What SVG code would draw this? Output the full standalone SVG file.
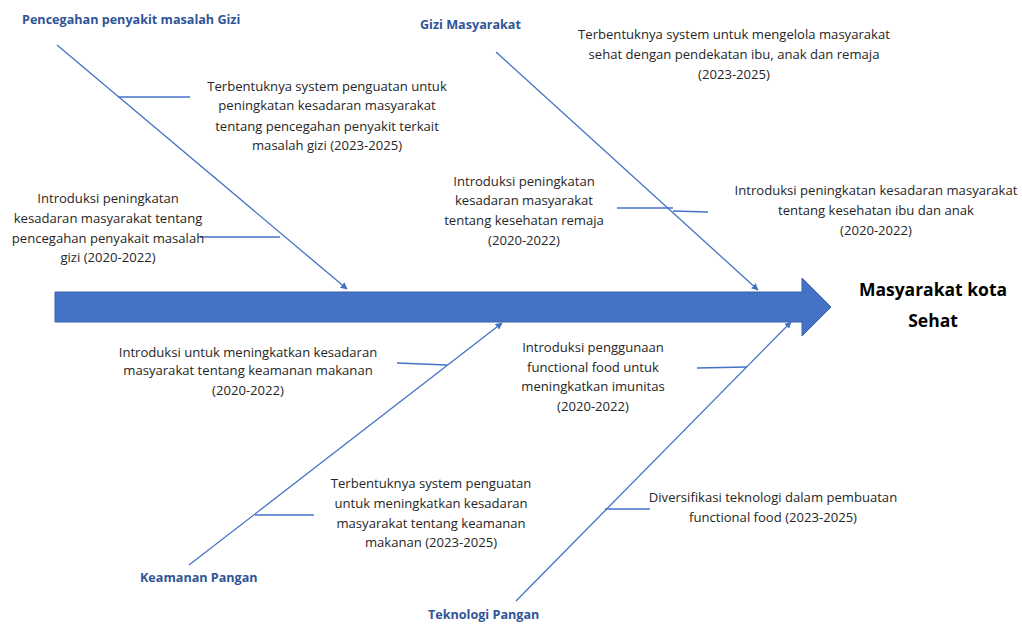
<svg xmlns="http://www.w3.org/2000/svg" width="1022" height="624" viewBox="0 0 1022 624">
<defs>
<marker id="ah" viewBox="0 0 10 10" refX="9" refY="5" markerWidth="7" markerHeight="7" orient="auto" markerUnits="userSpaceOnUse">
<path d="M0,0 L10,5 L0,10 Z" fill="#4472C4"/>
</marker>
<style>
.t{font-family:"Open Sans","Liberation Sans",sans-serif;font-size:13.1px;fill:#262626;text-anchor:middle}
.h{font-family:"Open Sans","Liberation Sans",sans-serif;font-size:12.6px;font-weight:bold;fill:#2F5597}
.m{font-family:"Open Sans","Liberation Sans",sans-serif;font-size:17.5px;font-weight:bold;fill:#000;text-anchor:middle}
.b{stroke:#4472C4;stroke-width:1.3;fill:none}
.ba{stroke:#4472C4;stroke-width:1.3;fill:none;marker-end:url(#ah)}
</style>
</defs>
<rect width="1022" height="624" fill="#fff"/>
<g id="spine">
<path d="M55,292 H802 V278 L831,307 L802,336 V322 H55 Z" fill="#4472C4" stroke="#3A62AD" stroke-width="1"/>
</g>
<g id="connectors">
<line class="ba" x1="57" y1="45" x2="347" y2="289"/>
<line class="b" x1="118" y1="97" x2="190" y2="97"/>
<line class="b" x1="200" y1="237" x2="280" y2="237"/>
<line class="ba" x1="496" y1="52" x2="758" y2="290"/>
<line class="b" x1="617" y1="208" x2="673" y2="208"/>
<line class="b" x1="673" y1="211" x2="708" y2="212"/>
<line class="ba" x1="189" y1="565" x2="502" y2="323"/>
<line class="b" x1="397" y1="363" x2="447" y2="365"/>
<line class="b" x1="255" y1="515" x2="314" y2="515"/>
<line class="ba" x1="516" y1="601" x2="791" y2="322"/>
<line class="b" x1="697" y1="368" x2="747" y2="367"/>
<line class="b" x1="605" y1="509" x2="650" y2="509"/>
</g>
<g id="head">
<text class="m" x="933" y="296">Masyarakat kota</text>
<text class="m" x="933" y="327">Sehat</text>
</g>
<g id="cat-pencegahan">
<text class="h" x="22" y="24">Pencegahan penyakit masalah Gizi</text>
</g>
<g id="cat-gizi">
<text class="h" x="420" y="29">Gizi Masyarakat</text>
</g>
<g id="cat-keamanan">
<text class="h" x="140" y="582">Keamanan Pangan</text>
</g>
<g id="cat-teknologi">
<text class="h" x="428" y="619">Teknologi Pangan</text>
</g>
<g id="node-a">
<text class="t" x="327" y="91">Terbentuknya system penguatan untuk</text>
<text class="t" x="327" y="110">peningkatan kesadaran masyarakat</text>
<text class="t" x="327" y="131">tentang pencegahan penyakit terkait</text>
<text class="t" x="327" y="150">masalah gizi (2023-2025)</text>
</g>
<g id="node-b">
<text class="t" x="108" y="203">Introduksi peningkatan</text>
<text class="t" x="108" y="223">kesadaran masyarakat tentang</text>
<text class="t" x="108" y="243">pencegahan penyakait masalah</text>
<text class="t" x="108" y="262">gizi (2020-2022)</text>
</g>
<g id="node-c">
<text class="t" x="734" y="39">Terbentuknya system untuk mengelola masyarakat</text>
<text class="t" x="734" y="59">sehat dengan pendekatan ibu, anak dan remaja</text>
<text class="t" x="734" y="79">(2023-2025)</text>
</g>
<g id="node-d">
<text class="t" x="524" y="186">Introduksi peningkatan</text>
<text class="t" x="524" y="205">kesadaran masyarakat</text>
<text class="t" x="524" y="225">tentang kesehatan remaja</text>
<text class="t" x="524" y="245">(2020-2022)</text>
</g>
<g id="node-e">
<text class="t" x="876" y="195">Introduksi peningkatan kesadaran masyarakat</text>
<text class="t" x="876" y="215">tentang kesehatan ibu dan anak</text>
<text class="t" x="876" y="235">(2020-2022)</text>
</g>
<g id="node-f">
<text class="t" x="248" y="357">Introduksi untuk meningkatkan kesadaran</text>
<text class="t" x="248" y="375">masyarakat tentang keamanan makanan</text>
<text class="t" x="248" y="395">(2020-2022)</text>
</g>
<g id="node-g">
<text class="t" x="431" y="488">Terbentuknya system penguatan</text>
<text class="t" x="431" y="508">untuk meningkatkan kesadaran</text>
<text class="t" x="431" y="528">masyarakat tentang keamanan</text>
<text class="t" x="431" y="547">makanan (2023-2025)</text>
</g>
<g id="node-h">
<text class="t" x="593" y="352">Introduksi penggunaan</text>
<text class="t" x="593" y="372">functional food untuk</text>
<text class="t" x="593" y="391">meningkatkan imunitas</text>
<text class="t" x="593" y="411">(2020-2022)</text>
</g>
<g id="node-i">
<text class="t" x="773" y="502">Diversifikasi teknologi dalam pembuatan</text>
<text class="t" x="773" y="522">functional food (2023-2025)</text>
</g>
</svg>
